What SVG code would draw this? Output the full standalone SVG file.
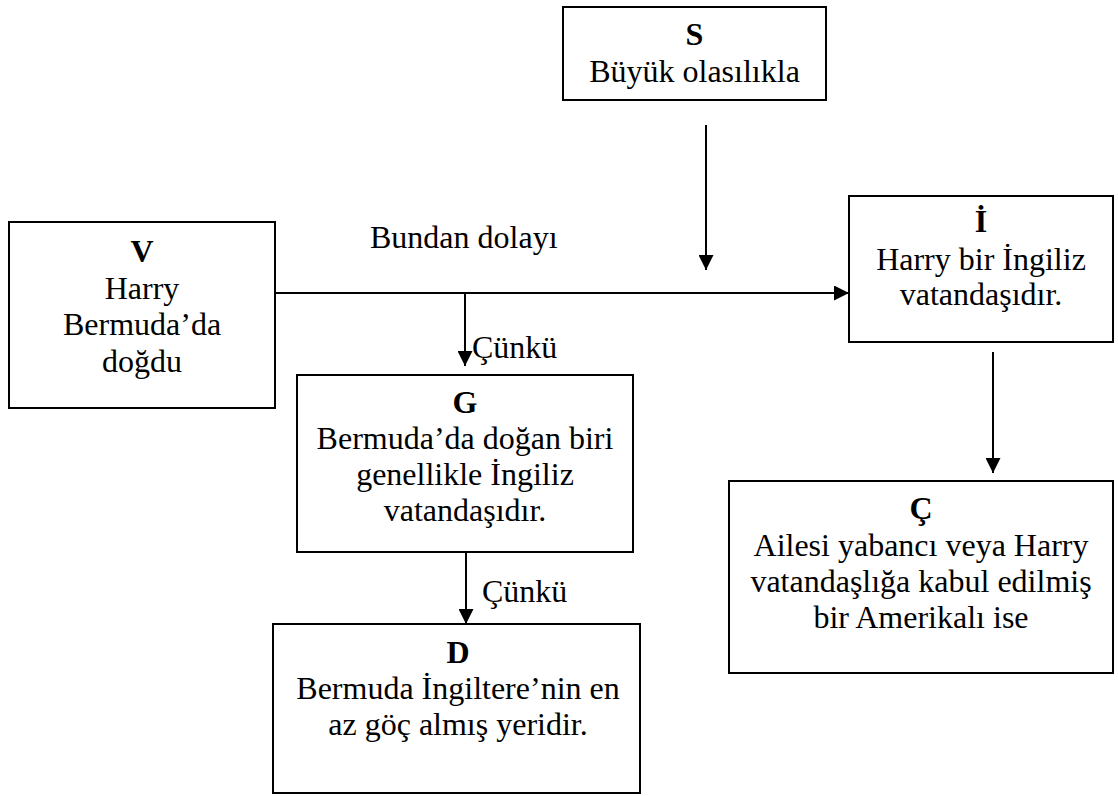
<svg xmlns="http://www.w3.org/2000/svg" width="1118" height="796" viewBox="0 0 1118 796">
<style>
.box{fill:#fff;stroke:#000;stroke-width:2}
.t{font-family:"Liberation Serif","Times New Roman",serif;font-size:32px;fill:#000;text-anchor:middle}
.b{font-weight:bold}
.l{font-family:"Liberation Serif","Times New Roman",serif;font-size:32px;fill:#000}
.c{stroke:#000;stroke-width:2;fill:none;marker-end:url(#ah)}
.p{stroke:#000;stroke-width:2;fill:none}
</style>
<defs>
<marker id="ah" markerUnits="userSpaceOnUse" markerWidth="15" markerHeight="15" refX="15" refY="7.5" orient="auto">
<path d="M0,0 L15,7.5 L0,15 z" fill="#000"/>
</marker>
</defs>
<rect width="1118" height="796" fill="#fff"/>
<g id="connectors">
<line class="p" x1="275" y1="293" x2="465" y2="293"/>
<line class="c" x1="465" y1="293" x2="849" y2="293"/>
<line class="c" x1="465" y1="293" x2="465" y2="366"/>
<line class="c" x1="706" y1="125" x2="706" y2="270"/>
<line class="c" x1="993" y1="352" x2="993" y2="473"/>
<line class="c" x1="466" y1="553" x2="466" y2="624"/>
<text class="l" x="370" y="248">Bundan dolayı</text>
<text class="l" x="472" y="358">Çünkü</text>
<text class="l" x="482" y="602">Çünkü</text>
</g>
<g id="S">
<rect class="box" x="563" y="7" width="263" height="93"/>
<text class="t b" x="694.5" y="45">S</text>
<text class="t" x="694.5" y="82">Büyük olasılıkla</text>
</g>
<g id="V">
<rect class="box" x="9" y="222" width="266" height="186"/>
<text class="t b" x="142" y="262">V</text>
<text class="t" x="142" y="299">Harry</text>
<text class="t" x="142" y="335">Bermuda’da</text>
<text class="t" x="142" y="372">doğdu</text>
</g>
<g id="I">
<rect class="box" x="849" y="196" width="264" height="146"/>
<text class="t b" x="981" y="232">İ</text>
<text class="t" x="981" y="270">Harry bir İngiliz</text>
<text class="t" x="981" y="305">vatandaşıdır.</text>
</g>
<g id="G">
<rect class="box" x="297" y="375" width="336" height="177"/>
<text class="t b" x="465" y="413">G</text>
<text class="t" x="465" y="449">Bermuda’da doğan biri</text>
<text class="t" x="465" y="485">genellikle İngiliz</text>
<text class="t" x="465" y="521">vatandaşıdır.</text>
</g>
<g id="D">
<rect class="box" x="273" y="624" width="367" height="169"/>
<text class="t b" x="458" y="663">D</text>
<text class="t" x="458" y="699">Bermuda İngiltere’nin en</text>
<text class="t" x="458" y="735">az göç almış yeridir.</text>
</g>
<g id="C">
<rect class="box" x="729" y="481" width="384" height="192"/>
<text class="t b" x="921" y="519">Ç</text>
<text class="t" x="921" y="556">Ailesi yabancı veya Harry</text>
<text class="t" x="921" y="592">vatandaşlığa kabul edilmiş</text>
<text class="t" x="921" y="628">bir Amerikalı ise</text>
</g>
</svg>
